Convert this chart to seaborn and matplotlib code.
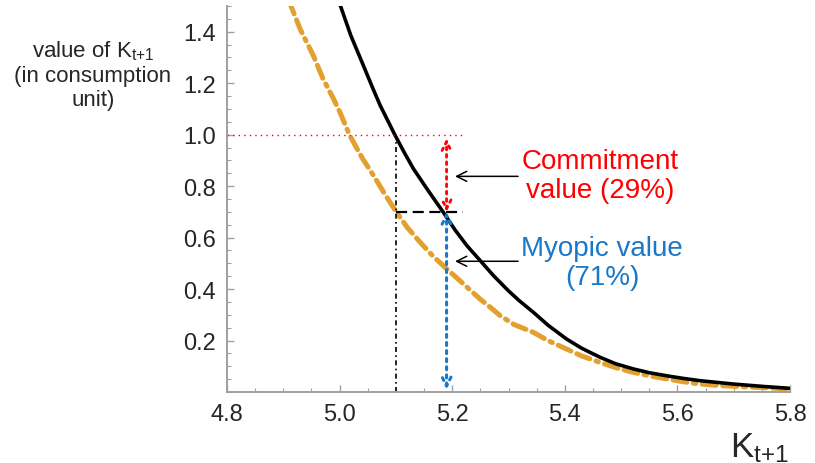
import matplotlib
matplotlib.use("Agg")
import matplotlib.pyplot as plt
import seaborn as sns
from matplotlib.ticker import MultipleLocator

# values
k_commit = [5.0, 5.02, 5.042, 5.06, 5.072, 5.098, 5.115, 5.131, 5.155, 5.184,
            5.205, 5.226, 5.25, 5.273, 5.30, 5.319, 5.344, 5.37, 5.403, 5.43,
            5.4625, 5.49, 5.522, 5.55, 5.581, 5.61, 5.64, 5.699, 5.75, 5.8]
v_commit = [1.51, 1.385, 1.27, 1.175, 1.114, 1.0, 0.93, 0.868, 0.79, 0.699,
            0.63, 0.569, 0.51, 0.453, 0.393, 0.355, 0.31, 0.26, 0.206, 0.17,
            0.135, 0.11, 0.0895, 0.075, 0.063, 0.053, 0.044, 0.031, 0.022, 0.014]

k_myopic = [4.91, 4.93, 4.953, 4.97, 4.989, 5.0, 5.018, 5.04, 5.06, 5.08,
            5.101, 5.12, 5.143, 5.165, 5.19, 5.22, 5.249, 5.27, 5.285, 5.31,
            5.344, 5.37, 5.403, 5.43, 5.4625, 5.49, 5.522, 5.55, 5.581, 5.61,
            5.64, 5.67, 5.699, 5.75, 5.8]
v_myopic = [1.52, 1.41, 1.309, 1.22, 1.14, 1.09, 0.997, 0.91, 0.842, 0.77,
            0.699, 0.64, 0.582, 0.53, 0.479, 0.42, 0.362, 0.325, 0.297, 0.262,
            0.232, 0.20, 0.167, 0.14, 0.115, 0.095, 0.076, 0.063, 0.051, 0.04,
            0.031, 0.026, 0.022, 0.017, 0.012]

k_cross = 5.10      # where the commitment curve hits 1.0
k_chosen = 5.19     # the chosen capital level
v_chosen = 0.70     # its myopic valuation
k_ref_end = 5.22
v_full = 1.0

x_ticks = [4.8, 5.0, 5.2, 5.4, 5.6, 5.8]
y_ticks = [0.2, 0.4, 0.6, 0.8, 1.0, 1.2, 1.4]

sns.set_style("white")
plt.rcParams['font.family'] = ['Liberation Sans', 'DejaVu Sans']
plt.rcParams['mathtext.fontset'] = 'custom'
plt.rcParams['mathtext.rm'] = 'Liberation Sans'
plt.rcParams['mathtext.it'] = 'Liberation Sans'

orange = '#E2A12F'
blue = '#1A78C9'
gray = '#A0A0A0'

fig = plt.figure(figsize=(8.15, 4.64), dpi=100)
ax = fig.add_axes([227 / 815, 71 / 464, 563 / 815, 386 / 464])

sns.lineplot(x=k_myopic, y=v_myopic, ax=ax, color=orange, lw=3.6, sort=False,
             linestyle=(0, (2.8, 1.3, 2.8, 1.3, 0.5, 1.3)), dash_capstyle='round')
sns.lineplot(x=k_commit, y=v_commit, ax=ax, color='black', lw=2.6, sort=False)

# reference lines
ax.plot([4.8, k_ref_end], [v_full, v_full], color='red', lw=1, linestyle=(0, (1, 3)))
ax.plot([k_cross, k_cross], [0, v_full], color='black', lw=1.2, linestyle=(0, (3, 2, 1, 2)))
ax.plot([k_cross, k_ref_end], [v_chosen, v_chosen], color='black', lw=1.6, linestyle=(0, (5, 2.5)))

# double arrows
ax.annotate('', xy=(k_chosen, 0.985), xytext=(k_chosen, v_chosen),
            arrowprops=dict(arrowstyle='<->', color='red', lw=2, linestyle=':',
                            mutation_scale=16, shrinkA=0, shrinkB=0))
ax.annotate('', xy=(k_chosen, v_chosen), xytext=(k_chosen, 0.01),
            arrowprops=dict(arrowstyle='<->', color=blue, lw=2.2, linestyle=':',
                            mutation_scale=16, shrinkA=0, shrinkB=0))

# pointer arrows + labels
ax.annotate('', xy=(5.205, 0.838), xytext=(5.317, 0.838),
            arrowprops=dict(arrowstyle='->', color='black', lw=1.1, mutation_scale=18,
                            shrinkA=0, shrinkB=0))
ax.annotate('', xy=(5.205, 0.508), xytext=(5.317, 0.508),
            arrowprops=dict(arrowstyle='->', color='black', lw=1.1, mutation_scale=18,
                            shrinkA=0, shrinkB=0))
ax.text(5.462, 0.842, 'Commitment\nvalue (29%)', color='red', fontsize=20,
        ha='center', va='center', linespacing=1.15)
ax.text(5.466, 0.502, 'Myopic value\n(71%)', color=blue, fontsize=20,
        ha='center', va='center', linespacing=1.15)

ax.set_xlim(4.8, 5.8)
ax.set_ylim(0, 1.5)
ax.set_xticks(x_ticks)
ax.set_xticklabels([f'{t:.1f}' for t in x_ticks])
ax.set_yticks(y_ticks)
ax.set_yticklabels([f'{t:.1f}' for t in y_ticks])
ax.xaxis.set_minor_locator(MultipleLocator(0.05))
ax.yaxis.set_minor_locator(MultipleLocator(0.05))
ax.tick_params(axis='both', which='major', direction='in', length=5, width=1,
               color=gray, labelsize=17, pad=8)
ax.tick_params(axis='both', which='minor', direction='in', length=3, width=0.8, color=gray)
ax.tick_params(axis='y', which='both', left=True)
ax.tick_params(axis='x', which='both', bottom=True)
for side in ['top', 'right']:
    ax.spines[side].set_visible(False)
for side in ['left', 'bottom']:
    ax.spines[side].set_color(gray)
    ax.spines[side].set_linewidth(1.4)

fig.text(0.114, 0.838, 'value of K$_{\\mathrm{t{+}1}}$\n(in consumption\nunit)',
         fontsize=16, ha='center', va='center', linespacing=1.2)
fig.text(0.932, 0.035, 'K$_{\\mathrm{t{+}1}}$', fontsize=25, ha='center', va='center')

fig.savefig('out.png', dpi=100)
